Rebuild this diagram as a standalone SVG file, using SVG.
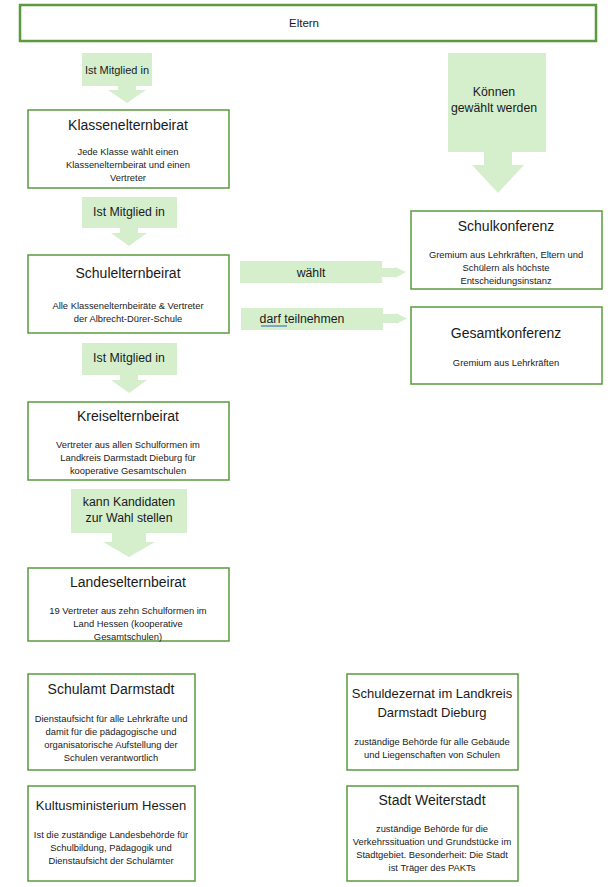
<svg xmlns="http://www.w3.org/2000/svg" width="613" height="887" viewBox="0 0 613 887">
<style>
.box{fill:#ffffff;stroke:#5a9a3c;stroke-width:1.5}
.eb{fill:#ffffff;stroke:#5a9a3c;stroke-width:2.5}
.co{fill:#d5efcd}
text{font-family:"Liberation Sans",Arial,sans-serif;fill:#1a1a1a;text-anchor:middle}
.t{font-size:14px}
.s{font-size:13px}
.d{font-size:9.4px}
.c{font-size:12.3px}
</style>
<rect width="613" height="887" fill="#ffffff"/>
<g id="eltern"><rect class="eb" x="20" y="5" width="576" height="36"/><text x="304" y="27" font-size="11.5">Eltern</text></g>

<g id="connectors">
<g id="c1"><path class="co" d="M82,53H152V86H136V90H146L127,103L108,90H118V86H82Z"/><text x="117" y="74" font-size="11">Ist Mitglied in</text></g>
<g id="c2"><path class="co" d="M82,197H177V228H138V233H147L129,246L111,233H120V228H82Z"/><text class="c" x="129" y="216">Ist Mitglied in</text></g>
<g id="c3"><path class="co" d="M82,343H177V375H138V380H147L129,393L111,380H120V375H82Z"/><text class="c" x="129" y="362">Ist Mitglied in</text></g>
<g id="c4"><path class="co" d="M71,489H187V533H146V542H155L129,557L103,542H112V533H71Z"/><text class="c" x="129" y="506">kann Kandidaten</text><text class="c" x="129" y="522">zur Wahl stellen</text></g>
<g id="c5"><path class="co" d="M448,53H546V152H512V165H524L498,193L472,165H484V152H448Z"/><text class="c" x="494" y="96">Können</text><text class="c" x="494" y="112">gewählt werden</text></g>
<g id="c6"><path class="co" d="M240,261H382V268H395V267L406,272L395,278V277H382V283H240Z"/><text class="c" x="311" y="277">wählt</text></g>
<g id="c7"><path class="co" d="M241,308H383V314H396V313L407,318.5L396,324V323H383V330H241Z"/><text class="c" x="302" y="323">darf teilnehmen</text><line x1="261" y1="326" x2="287" y2="326" stroke="#2b5fb4" stroke-width="1"/></g>
</g>

<g id="klassen"><rect class="box" x="28" y="110" width="201" height="78"/><text class="t" x="128" y="130">Klassenelternbeirat</text><text class="d" x="128" y="155">Jede Klasse wählt einen</text><text class="d" x="128" y="168">Klassenelternbeirat und einen</text><text class="d" x="128" y="181">Vertreter</text></g>

<g id="schul"><rect class="box" x="28" y="255" width="201" height="78"/><text class="t" x="128" y="278">Schulelternbeirat</text><text class="d" x="128" y="309">Alle Klassenelternbeiräte &amp; Vertreter</text><text class="d" x="128" y="322">der Albrecht-Dürer-Schule</text></g>

<g id="kreis"><rect class="box" x="28" y="402" width="201" height="78"/><text class="t" x="128" y="421">Kreiselternbeirat</text><text class="d" x="128" y="448">Vertreter aus allen Schulformen im</text><text class="d" x="128" y="461">Landkreis Darmstadt Dieburg für</text><text class="d" x="128" y="474">kooperative Gesamtschulen</text></g>

<g id="landes"><rect class="box" x="28" y="568" width="201" height="73"/><text class="t" x="128" y="587">Landeselternbeirat</text><text class="d" x="128" y="614">19 Vertreter aus zehn Schulformen im</text><text class="d" x="128" y="627">Land Hessen (kooperative</text><text class="d" x="128" y="640">Gesamtschulen)</text></g>

<g id="schulkonferenz"><rect class="box" x="411" y="211" width="191" height="78"/><text class="t" x="506" y="231">Schulkonferenz</text><text class="d" x="506" y="258">Gremium aus Lehrkräften, Eltern und</text><text class="d" x="506" y="271">Schülern als höchste</text><text class="d" x="506" y="284">Entscheidungsinstanz</text></g>

<g id="gesamtkonferenz"><rect class="box" x="411" y="307" width="191" height="77"/><text class="t" x="506" y="338">Gesamtkonferenz</text><text class="d" x="506" y="366">Gremium aus Lehrkräften</text></g>

<g id="schulamt"><rect class="box" x="28" y="674" width="167" height="96"/><text class="t" x="111" y="694">Schulamt Darmstadt</text><text class="d" x="111" y="722">Dienstaufsicht für alle Lehrkräfte und</text><text class="d" x="111" y="735">damit für die pädagogische und</text><text class="d" x="111" y="748">organisatorische Aufstellung der</text><text class="d" x="111" y="761">Schulen verantwortlich</text></g>

<g id="kultus"><rect class="box" x="28" y="786" width="167" height="95"/><text class="s" x="111" y="810">Kultusministerium Hessen</text><text class="d" x="111" y="838">Ist die zuständige Landesbehörde für</text><text class="d" x="111" y="851">Schulbildung, Pädagogik und</text><text class="d" x="111" y="864">Dienstaufsicht der Schulämter</text></g>

<g id="schuldezernat"><rect class="box" x="347" y="674" width="171" height="96"/><text class="s" x="432" y="698">Schuldezernat im Landkreis</text><text class="s" x="432" y="717">Darmstadt Dieburg</text><text class="d" x="432" y="745">zuständige Behörde für alle Gebäude</text><text class="d" x="432" y="758">und Liegenschaften von Schulen</text></g>

<g id="stadt"><rect class="box" x="347" y="786" width="171" height="95"/><text class="t" x="432" y="805">Stadt Weiterstadt</text><text class="d" x="432" y="832">zuständige Behörde für die</text><text class="d" x="432" y="845">Verkehrssituation und Grundstücke im</text><text class="d" x="432" y="858">Stadtgebiet. Besonderheit: Die Stadt</text><text class="d" x="432" y="871">ist Träger des PAKTs</text></g>
</svg>
